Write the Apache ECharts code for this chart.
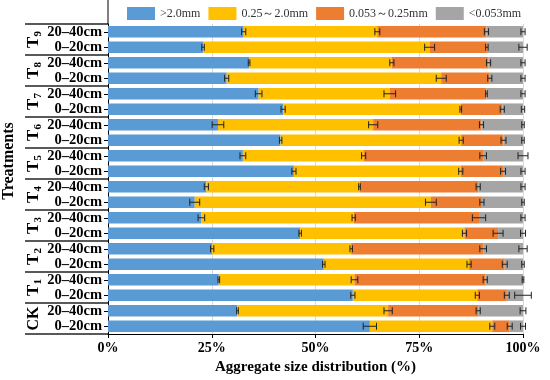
<!DOCTYPE html>
<html>
<head>
<meta charset="utf-8">
<script src="https://cdn.jsdelivr.net/npm/echarts/dist/echarts.min.js"></script>
<style>
html,body{margin:0;padding:0;background:#fff;}
#main{width:550px;height:380px;}
</style>
</head>
<body>
<div id="main"></div>
<script>
// ---- data (top row first) ----
const categories = ['20–40cm','0–20cm','20–40cm','0–20cm','20–40cm','0–20cm','20–40cm','0–20cm','20–40cm','0–20cm',
                    '20–40cm','0–20cm','20–40cm','0–20cm','20–40cm','0–20cm','20–40cm','0–20cm','20–40cm','0–20cm'];
const groupLabels = ['T9','T8','T7','T6','T5','T4','T3','T2','T1','CK'];
const seriesNames = ['>2.0mm','0.25～2.0mm','0.053～0.25mm','<0.053mm'];
const xTicks = ['0%','25%','50%','75%','100%'];

const gt2  = [32.7,22.9,34.0,28.6,36.3,42.2,26.5,41.6,32.5,44.8,23.7,20.9,22.5,46.3,25.1,52.0,26.7,59.0,31.2,63.1];
const mid  = [32.2,54.6,34.4,51.7,31.6,42.8,37.4,43.5,29.1,40.2,36.9,56.9,36.7,39.6,33.5,35.0,32.7,30.0,36.3,29.5];
const fine = [26.3,13.8,23.3,11.7,23.3,10.0,26.1,10.2,28.8,10.2,28.6,12.3,30.2,8.1,31.8,8.6,31.5,7.1,21.7,4.2];
const clay = [8.8,8.7,8.3,8.0,8.8,5.0,10.0,4.7,9.6,4.8,10.8,9.9,10.6,6.0,9.6,4.4,9.1,3.9,10.8,3.2];

const errGt2  = [0.5,0.3,0.2,0.5,0.8,0.5,1.4,0.3,0.7,0.5,0.5,1.2,0.8,0.3,0.4,0.3,0.2,0.5,0.2,1.6];
const errMid  = [0.6,1.2,0.5,1.2,1.4,0.2,1.1,0.5,0.5,0.5,0.2,1.3,0.4,0.5,0.3,0.5,0.8,0.5,1.0,0.6];
const errFine = [0.5,0.3,0.5,0.5,0.2,0.5,0.5,0.6,0.8,0.6,0.5,0.5,1.6,1.2,0.8,0.6,0.5,0.6,0.5,0.6];
const errClay = [0.5,1.0,0.5,0.5,0.5,0.4,0.3,0.3,1.2,0.5,0.5,0.3,0.5,0.6,1.0,0.3,0.2,2.0,0.7,0.6];

const colors = ['#5B9BD5','#FFC000','#ED7D31','#A5A5A5'];
const FONT = '"Liberation Serif","Times New Roman",serif';

// ---- build ----
const segs = [gt2, mid, fine, clay];
const errs = [errGt2, errMid, errFine, errClay];
const errData = [];
for (let i = 0; i < categories.length; i++) {
  let cum = 0;
  for (let s = 0; s < 4; s++) {
    cum += segs[s][i];
    errData.push([cum, i, errs[s][i]]);
  }
}

const chart = echarts.init(document.getElementById('main'), null, {renderer:'canvas'});

const barSeries = seriesNames.map((n, s) => ({
  name: n, type: 'bar', stack: 'total', data: segs[s], barWidth: '75%',
  itemStyle: {color: colors[s]}, z: 2
}));

chart.setOption({
  animation: false,
  backgroundColor: '#fff',
  color: colors,
  legend: {
    left: 122, top: 2, itemWidth: 28, itemHeight: 13, itemGap: 8,
    icon: 'rect', data: seriesNames,
    textStyle: {fontFamily: FONT, fontSize: 12, color: '#333'}
  },
  grid: {left: 108, right: 27, top: 24, bottom: 46, containLabel: false},
  xAxis: {
    type: 'value', min: 0, max: 100, interval: 25,
    axisLine: {show: true, lineStyle: {color: '#000', width: 1}},
    axisTick: {show: true, length: 4, lineStyle: {color: '#000'}},
    axisLabel: {
      formatter: v => xTicks[Math.round(v / 25)],
      fontFamily: FONT, fontSize: 14, fontWeight: 'bold', color: '#000', margin: 7
    },
    splitLine: {show: true, lineStyle: {color: '#D9D9D9', width: 1}},
    name: 'Aggregate size distribution (%)', nameLocation: 'middle', nameGap: 25,
    nameTextStyle: {fontFamily: FONT, fontSize: 15, fontWeight: 'bold', color: '#000'}
  },
  yAxis: {
    type: 'category', data: categories, inverse: true,
    axisLine: {show: true, lineStyle: {color: '#000', width: 1}},
    axisTick: {show: true, length: 4, alignWithLabel: true, lineStyle: {color: '#000'}},
    axisLabel: {fontFamily: FONT, fontSize: 14.5, fontWeight: 'bold', color: '#000', margin: 6, interval: 0}
  },
  series: barSeries.concat([{
    type: 'custom', name: 'err', data: errData, z: 5, clip: false,
    encode: {x: 0, y: 1},
    renderItem: function (params, api) {
      const v = api.value(0), idx = api.value(1), e = api.value(2);
      const p0 = api.coord([v - e, idx]);
      const p1 = api.coord([v + e, idx]);
      const h = 3.5;
      const st = {stroke: '#222', lineWidth: 1};
      return {type: 'group', children: [
        {type: 'line', shape: {x1: p0[0], y1: p0[1], x2: p1[0], y2: p1[1]}, style: st},
        {type: 'line', shape: {x1: p0[0], y1: p0[1] - h, x2: p0[0], y2: p0[1] + h}, style: st},
        {type: 'line', shape: {x1: p1[0], y1: p1[1] - h, x2: p1[0], y2: p1[1] + h}, style: st}
      ]};
    }
  }])
});

// ---- decorations: group boxes / labels ----
const yOf = i => chart.convertToPixel({yAxisIndex: 0}, i);
const axisX = chart.convertToPixel({xAxisIndex: 0}, 0);
const half = (yOf(1) - yOf(0)) / 2;
const graphics = [];
const lineStyle = {stroke: '#222', lineWidth: 1.5};
for (let g = 0; g <= groupLabels.length; g++) {
  const y = g < groupLabels.length ? yOf(2 * g) - half : yOf(2 * g - 1) + half;
  graphics.push({type: 'line', shape: {x1: 25, y1: y, x2: axisX, y2: y}, style: lineStyle, z: 10});
}
graphics.push({type: 'line', shape: {x1: axisX, y1: 0, x2: axisX, y2: yOf(0) - half}, style: {stroke: '#000', lineWidth: 1}, z: 10});
groupLabels.forEach((lab, g) => {
  const cy = (yOf(2 * g) + yOf(2 * g + 1)) / 2;
  const m = lab.match(/^T(\d)$/);
  const txt = m ? '{t|T}{s|' + m[1] + '}' : '{c|' + lab + '}';
  graphics.push({
    type: 'text', x: 34, y: cy, rotation: Math.PI / 2, z: 10,
    style: {
      text: txt, textAlign: 'center', textVerticalAlign: 'middle',
      rich: {
        t: {fontFamily: FONT, fontSize: 17, fontWeight: 'bold', fill: '#000', lineHeight: 20},
        s: {fontFamily: FONT, fontSize: 11, fontWeight: 'bold', fill: '#000', lineHeight: 11, verticalAlign: 'bottom'},
        c: {fontFamily: FONT, fontSize: 16, fontWeight: 'bold', fill: '#000', lineHeight: 20}
      }
    }
  });
});
graphics.push({
  type: 'text', x: 9, y: 161, rotation: Math.PI / 2, z: 10,
  style: {text: 'Treatments', textAlign: 'center', textVerticalAlign: 'middle',
          font: 'bold 16px ' + FONT, fill: '#000'}
});
chart.setOption({graphic: graphics});
</script>
</body>
</html>
